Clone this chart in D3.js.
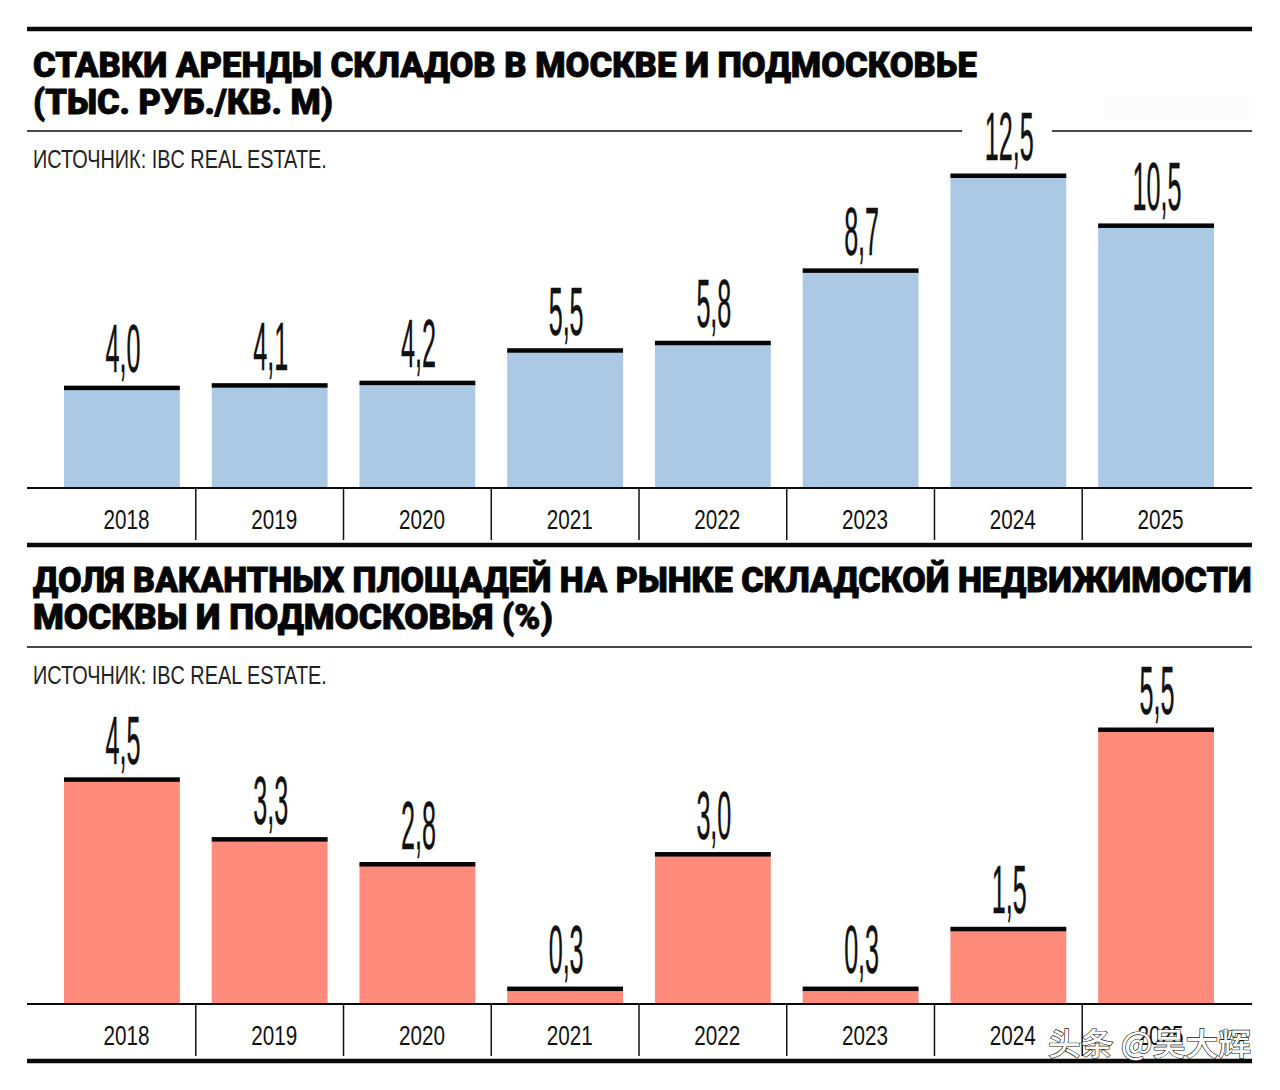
<!DOCTYPE html>
<html>
<head>
<meta charset="utf-8">
<script src="https://d3js.org/d3.v7.min.js"></script>
<style>
  html, body { margin: 0; padding: 0; background: #fff; }
  svg { display: block; }
</style>
</head>
<body>
<div id="chart"></div>
<script>
// values
const years = ['2018', '2019', '2020', '2021', '2022', '2023', '2024', '2025'];
const rentValues = [4.0, 4.1, 4.2, 5.5, 5.8, 8.7, 12.5, 10.5];
const vacancyValues = [4.5, 3.3, 2.8, 0.3, 3.0, 0.3, 1.5, 5.5];
const rentTitle = ['СТАВКИ АРЕНДЫ СКЛАДОВ В МОСКВЕ И ПОДМОСКОВЬЕ', '(ТЫС. РУБ./КВ. М)'];
const vacancyTitle = ['ДОЛЯ ВАКАНТНЫХ ПЛОЩАДЕЙ НА РЫНКЕ СКЛАДСКОЙ НЕДВИЖИМОСТИ', 'МОСКВЫ И ПОДМОСКОВЬЯ (%)'];
const sourceText = 'ИСТОЧНИК: IBC REAL ESTATE.';

const width = 1280, height = 1090;
const left = 27, right = 1252;
const narrow = '"Liberation Sans Narrow", "Liberation Sans", sans-serif';

const svg = d3.select('#chart').append('svg')
  .attr('width', width)
  .attr('height', height);

const xScale = d3.scaleBand()
  .domain(years)
  .range([64, 1214])
  .paddingInner(0.216)
  .paddingOuter(0);

function rule(x1, x2, y, w) {
  svg.append('line')
    .attr('x1', x1).attr('x2', x2)
    .attr('y1', y).attr('y2', y)
    .attr('stroke', '#0a0a0a')
    .attr('stroke-width', w);
}

// squeeze a text to a given width, keeps the text inside the page
function fitText(sel, x, y, w) {
  const natural = sel.node().getComputedTextLength();
  sel.attr('transform', `translate(${x},${y}) scale(${w / natural},1)`);
}

function drawPanel(opt) {
  const g = svg.append('g');

  // title, two lines fitted to the widths in the picture
  opt.title.forEach((line, i) => {
    const t = g.append('text')
      .attr('font-family', 'Roboto, "Liberation Sans", sans-serif')
      .attr('font-weight', 900)
      .attr('font-size', 35)
      .attr('fill', '#050505')
      .attr('stroke', '#050505')
      .attr('stroke-width', 0.9)
      .text(line);
    fitText(t, 33, opt.titleY[i], opt.titleW[i]);
  });

  // thin rule under the title
  opt.ruleParts.forEach(p => rule(p[0], p[1], opt.ruleY, 1.5));

  const src = g.append('text')
    .attr('font-family', narrow)
    .attr('font-size', 26)
    .attr('fill', '#222')
    .text(sourceText);
  fitText(src, 33, opt.ruleY + 37, 294);

  const yScale = d3.scaleLinear()
    .domain([0, opt.maxValue])
    .range([opt.baseline, opt.maxTop]);

  const rows = years.map((y, i) => ({ year: y, value: opt.values[i] }));

  g.selectAll('.bar')
    .data(rows)
    .enter().append('rect')
    .attr('class', 'bar')
    .attr('x', d => xScale(d.year))
    .attr('y', d => yScale(d.value))
    .attr('width', xScale.bandwidth())
    .attr('height', d => opt.baseline - yScale(d.value))
    .attr('fill', opt.color);

  // black cap on top of every bar
  g.selectAll('.cap')
    .data(rows)
    .enter().append('rect')
    .attr('class', 'cap')
    .attr('x', d => xScale(d.year))
    .attr('y', d => yScale(d.value) - 1.5)
    .attr('width', xScale.bandwidth())
    .attr('height', 4.5)
    .attr('fill', '#050505');

  // tall condensed value labels
  g.selectAll('.value')
    .data(rows)
    .enter().append('text')
    .attr('class', 'value')
    .attr('transform', d => `translate(${xScale(d.year) + xScale.bandwidth() / 2 + 1},${yScale(d.value) - 15}) scale(0.37,1)`)
    .attr('text-anchor', 'middle')
    .attr('font-family', narrow)
    .attr('font-size', 68)
    .attr('fill', '#111')
    .attr('stroke', '#111')
    .attr('stroke-width', 0.4)
    .text(d => d.value.toFixed(1).replace('.', ','));

  // year axis
  const axis = g.append('g')
    .attr('transform', `translate(0,${opt.baseline})`)
    .call(d3.axisBottom(xScale).tickSize(0));
  axis.select('.domain').remove();
  axis.selectAll('text')
    .attr('x', 4.5)
    .attr('y', 22)
    .attr('dy', '0.71em')
    .attr('textLength', 46)
    .attr('lengthAdjust', 'spacingAndGlyphs')
    .attr('font-family', narrow)
    .attr('font-size', 28)
    .attr('fill', '#111');

  rule(left, right, opt.baseline + 1, 2);
  rule(left, right, opt.baseline + 58, 4.5);

  g.selectAll('.divider')
    .data(years.slice(0, -1))
    .enter().append('line')
    .attr('class', 'divider')
    .attr('x1', d => xScale(d) + xScale.step() - (xScale.step() - xScale.bandwidth()) / 2)
    .attr('x2', d => xScale(d) + xScale.step() - (xScale.step() - xScale.bandwidth()) / 2)
    .attr('y1', opt.baseline + 1)
    .attr('y2', opt.baseline + 53)
    .attr('stroke', '#111')
    .attr('stroke-width', 1.5);
}

rule(left, right, 29, 4.5);

// faint smudge left in the scan, top right
svg.append('rect')
  .attr('x', 1105).attr('y', 96)
  .attr('width', 144).attr('height', 24)
  .attr('fill', '#fbfbfb');

drawPanel({
  title: rentTitle,
  titleY: [77, 114],
  titleW: [944, 300],
  ruleY: 131,
  ruleParts: [[left, 962], [1052, right]],
  values: rentValues,
  maxValue: 12.5,
  baseline: 487,
  maxTop: 175,
  color: '#abc9e5'
});

drawPanel({
  title: vacancyTitle,
  titleY: [592, 629],
  titleW: [1219, 520],
  ruleY: 647,
  ruleParts: [[left, right]],
  values: vacancyValues,
  maxValue: 5.5,
  baseline: 1003,
  maxTop: 729,
  color: '#fe8b7b'
});

// watermark
const mark = svg.append('text')
  .attr('font-family', '"Noto Sans CJK SC", sans-serif')
  .attr('font-weight', 500)
  .attr('font-size', 31)
  .attr('fill', '#fff')
  .attr('stroke', '#111')
  .attr('stroke-width', 1.2)
  .attr('paint-order', 'stroke')
  .text('头条 @吴大辉');
fitText(mark, 1048, 1055, 203);
</script>
</body>
</html>
